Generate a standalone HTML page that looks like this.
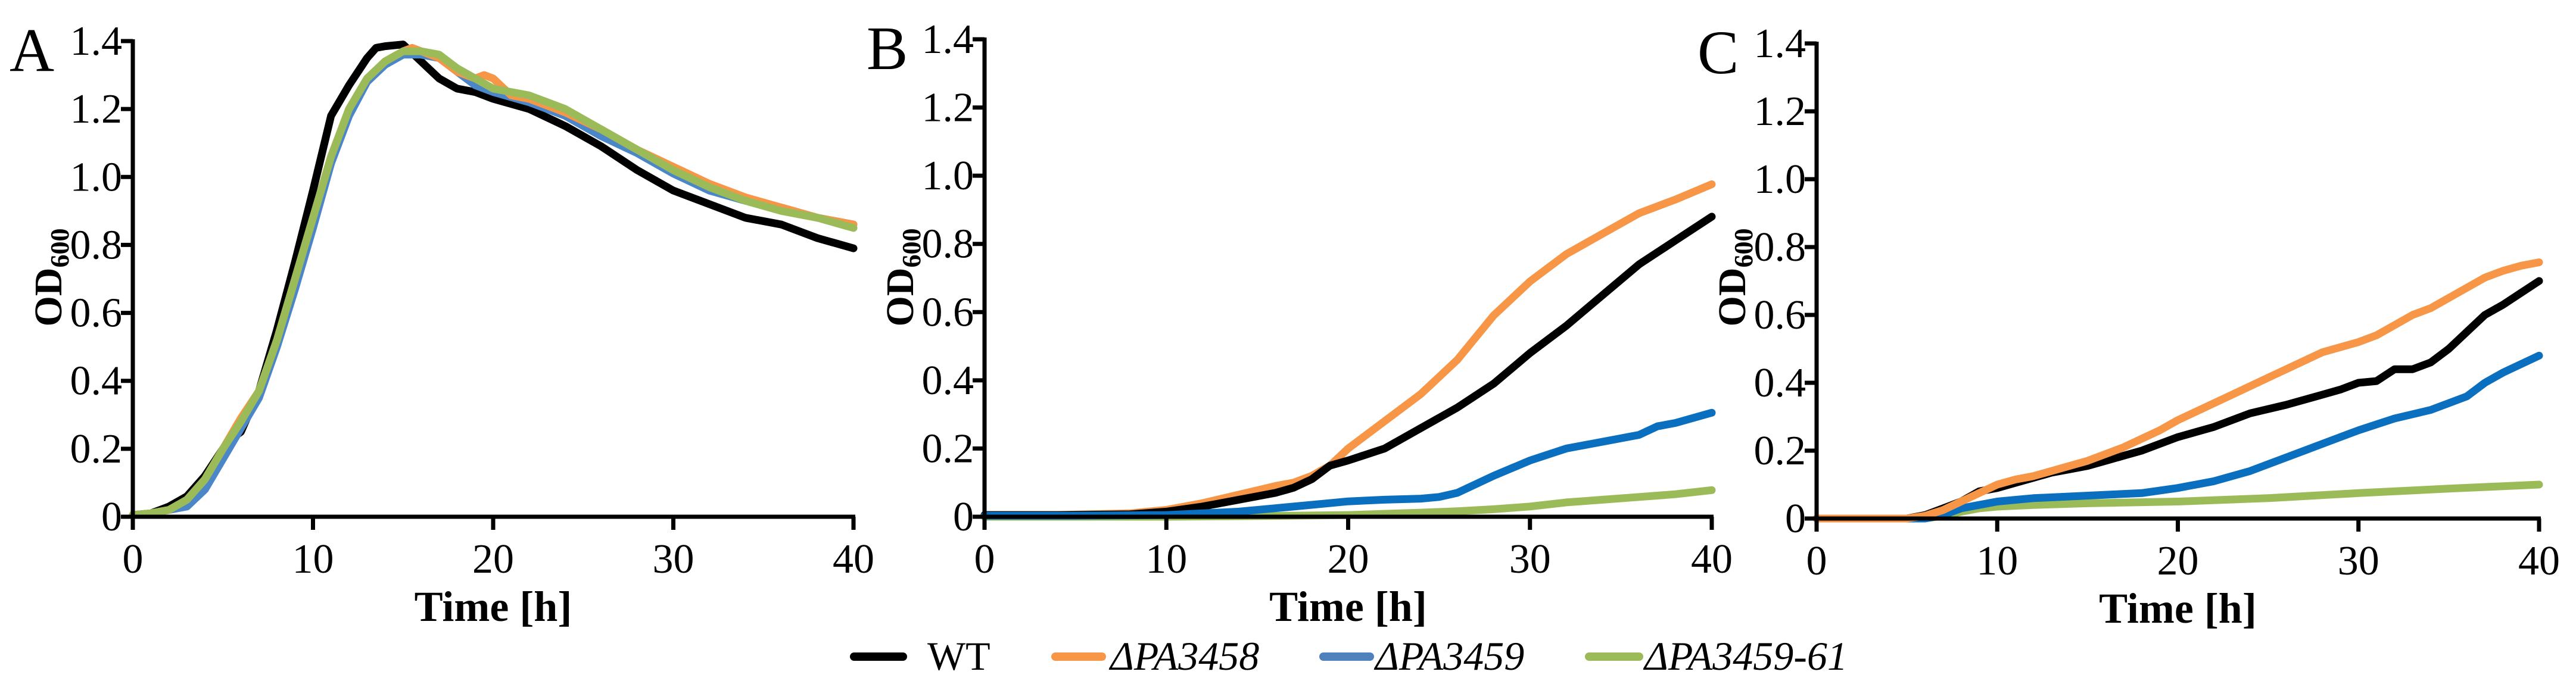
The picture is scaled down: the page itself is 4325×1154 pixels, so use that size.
<!DOCTYPE html>
<html><head><meta charset="utf-8">
<style>
html,body{margin:0;padding:0;background:#fff;}
svg{display:block;font-family:"Liberation Serif","Times New Roman",serif;}
svg text{font-family:"Liberation Serif","Times New Roman",serif;}
</style></head>
<body>
<svg id="fig" width="4325" height="1154" viewBox="0 0 4325 1154" xmlns="http://www.w3.org/2000/svg" font-family="Liberation Serif, serif">
<rect width="4325" height="1154" fill="#fff"/>
<g id="legend" font-family="Liberation Serif, serif">
  <g>
    <line x1="1434" y1="1103" x2="1516" y2="1103" stroke="#000" stroke-width="14" stroke-linecap="round"/>
    <text x="1557" y="1125" font-size="68" font-family="Liberation Serif, serif">WT</text>
  </g>
  <g>
    <line x1="1772" y1="1103" x2="1850" y2="1103" stroke="#F79646" stroke-width="14" stroke-linecap="round"/>
    <text x="1864" y="1125" font-size="68" font-style="italic" font-family="Liberation Serif, serif">ΔPA3458</text>
  </g>
  <g>
    <line x1="2222" y1="1103" x2="2300" y2="1103" stroke="#4F81BD" stroke-width="14" stroke-linecap="round"/>
    <text x="2309" y="1125" font-size="68" font-style="italic" font-family="Liberation Serif, serif">ΔPA3459</text>
  </g>
  <g>
    <line x1="2668" y1="1103" x2="2752" y2="1103" stroke="#9BBB59" stroke-width="14" stroke-linecap="round"/>
    <text x="2761" y="1125" font-size="68" font-style="italic" font-family="Liberation Serif, serif">ΔPA3459-61</text>
  </g>
</g>
</svg>
<script>
const xTicks = [0, 10, 20, 30, 40];
const yTicks = [0, 0.2, 0.4, 0.6, 0.8, 1.0, 1.2, 1.4];
const yTickLabels = ["0", "0.2", "0.4", "0.6", "0.8", "1.0", "1.2", "1.4"];

// Panel A
const aWtT = [0,1,2,3,4,5,5.5,6,7,8,9,10,11,12,13,13.5,14,15,16,17,18,19,20,22,24,26,28,30,32,34,36,38,40];
const aWtV = [0.005,0.01,0.03,0.06,0.12,0.2,0.23,0.25,0.37,0.55,0.75,0.96,1.18,1.27,1.35,1.38,1.385,1.39,1.34,1.29,1.26,1.25,1.23,1.2,1.15,1.09,1.02,0.96,0.92,0.88,0.86,0.82,0.79];
const aGrT = [0,1,2,3,4,5,6,7,8,9,10,11,12,13,14,15,16,17,18,19,20,21,22,24,26,28,30,32,34,36,38,40];
const aGrV = [0.005,0.01,0.02,0.05,0.11,0.2,0.28,0.37,0.52,0.7,0.88,1.06,1.2,1.29,1.34,1.37,1.37,1.36,1.32,1.29,1.26,1.25,1.24,1.2,1.14,1.08,1.02,0.97,0.93,0.9,0.88,0.85];
const aOrT = [0,1,2,3,4,5,6,7,8,9,10,11,12,13,14,15,15.5,16,17,18,19,19.5,20,21,22,24,26,28,30,32,34,36,38,40];
const aOrV = [0.005,0.01,0.02,0.05,0.11,0.2,0.29,0.37,0.52,0.7,0.88,1.06,1.2,1.29,1.34,1.37,1.38,1.37,1.35,1.31,1.29,1.3,1.29,1.24,1.23,1.19,1.14,1.08,1.03,0.98,0.94,0.91,0.88,0.86];
const aBlT = [0,1,2,3,4,5,6,7,8,9,10,11,12,13,14,15,16,17,18,19,20,22,24,26,28,30,32,34,36,38,40];
const aBlV = [0.005,0.01,0.02,0.03,0.08,0.17,0.26,0.35,0.5,0.67,0.85,1.04,1.18,1.28,1.33,1.36,1.36,1.35,1.31,1.27,1.25,1.22,1.18,1.12,1.07,1.01,0.96,0.93,0.91,0.88,0.86];

// Panel B
const bWtT = [0,4,8,10,12,14,16,17,18,19,20,22,24,26,28,30,32,34,36,38,40];
const bWtV = [0.005,0.005,0.007,0.015,0.03,0.05,0.07,0.085,0.11,0.15,0.165,0.2,0.26,0.32,0.39,0.48,0.56,0.65,0.74,0.81,0.88];
const bOrT = [0,4,8,10,12,14,16,17,18,19,20,22,24,26,28,30,32,34,36,38,40];
const bOrV = [0.005,0.005,0.01,0.02,0.04,0.065,0.09,0.1,0.12,0.15,0.2,0.28,0.36,0.46,0.59,0.69,0.77,0.83,0.89,0.93,0.975];
const bBlT = [0,5,10,12,14,16,18,20,22,24,25,26,28,30,32,34,36,37,38,40];
const bBlV = [0.003,0.003,0.005,0.01,0.015,0.025,0.035,0.045,0.05,0.053,0.058,0.07,0.12,0.165,0.2,0.22,0.24,0.265,0.275,0.305];
const bGrT = [0,10,15,20,24,26,28,30,32,34,36,38,40];
const bGrV = [0.0,0.0,0.002,0.005,0.012,0.016,0.022,0.03,0.042,0.05,0.058,0.066,0.078];

// Panel C
const cWtT = [0,5,6,7,8,9,10,11,12,13,14,15,16,17,18,19,20,22,24,26,28,29,30,31,32,33,34,35,36,37,38,39,40];
const cWtV = [0,0,0.01,0.03,0.05,0.08,0.09,0.105,0.12,0.135,0.145,0.155,0.17,0.185,0.2,0.22,0.24,0.27,0.31,0.335,0.365,0.38,0.4,0.405,0.44,0.44,0.46,0.5,0.55,0.6,0.63,0.665,0.7];
const cOrT = [0,5,6,7,8,9,10,11,12,13,14,15,16,17,18,19,20,22,24,26,28,30,31,32,33,34,35,36,37,38,39,40];
const cOrV = [0,0,0.008,0.025,0.05,0.075,0.1,0.115,0.125,0.14,0.155,0.17,0.19,0.21,0.235,0.26,0.29,0.34,0.39,0.44,0.49,0.52,0.54,0.57,0.6,0.62,0.65,0.68,0.71,0.73,0.745,0.755];
const cBlT = [0,6,7,8,9,10,11,12,14,16,18,20,22,24,26,28,30,32,34,35,36,37,38,39,40];
const cBlV = [0,0,0.01,0.03,0.04,0.05,0.055,0.06,0.065,0.07,0.075,0.09,0.11,0.14,0.18,0.22,0.26,0.295,0.32,0.34,0.36,0.4,0.43,0.455,0.48];
const cGrT = [0,6,7,8,9,10,12,15,20,25,30,35,40];
const cGrV = [0,0,0.008,0.02,0.03,0.035,0.04,0.045,0.05,0.06,0.075,0.088,0.1];

const COL = {wt:"#000000", or:"#F79646", bl:"#4A86C8", bl2:"#0A6FBF", gr:"#9BBB59"};
const FONT = "Liberation Serif, serif";

const panels = [
  {id:"a", letter:"A", letterX:16, x0:223, x1:1433, y0:868, y1:69,
   series:[["wt",aWtT,aWtV,COL.wt],["blue",aBlT,aBlV,COL.bl],["orange",aOrT,aOrV,COL.or],["green",aGrT,aGrV,COL.gr]]},
  {id:"b", letter:"B", letterX:1455, x0:1653, x1:2874, y0:868, y1:66,
   series:[["green",bGrT,bGrV,COL.gr],["orange",bOrT,bOrV,COL.or],["wt",bWtT,bWtV,COL.wt],["blue",bBlT,bBlV,COL.bl2]]},
  {id:"c", letter:"C", letterX:2850, x0:3050, x1:4263, y0:871, y1:73,
   series:[["green",cGrT,cGrV,COL.gr],["blue",cBlT,cBlV,COL.bl2],["wt",cWtT,cWtV,COL.wt],["orange",cOrT,cOrV,COL.or]]}
];

const NS = "http://www.w3.org/2000/svg";
const svg = document.getElementById("fig");
function mk(tag, attrs, parent){
  const e = document.createElementNS(NS, tag);
  for (const k in attrs) e.setAttribute(k, attrs[k]);
  if (tag === "text") e.setAttribute("font-family", FONT);
  parent.appendChild(e);
  return e;
}

panels.forEach(p => {
  const xs = v => p.x0 + (v/40)*(p.x1-p.x0);
  const ys = v => p.y0 - (v/1.4)*(p.y0-p.y1);
  const g = mk("g", {}, svg);
  
  

  const lt = mk("text", {x:p.letterX, y:p.y1+50, "font-size":"104"}, g);
  
  
  lt.textContent = p.letter;

  const sg = mk("g", {}, g);
  
  
  p.series.forEach(s => {
    const [name, T, V, col] = s;
    const pts = T.map((t,i) => xs(t).toFixed(1) + "," + ys(V[i]).toFixed(1)).join(" ");
    const pl = mk("polyline", {points:pts, fill:"none", stroke:col, "stroke-width":"13", "stroke-linejoin":"round", "stroke-linecap":"round"}, sg);
    
    
  });

  const ax = mk("g", {stroke:"#000", "stroke-width":"7", fill:"none"}, g);
  
  
  mk("line", {x1:p.x0, y1:p.y1-3, x2:p.x0, y2:p.y0+22}, ax);
  mk("line", {x1:p.x0-20, y1:p.y0, x2:p.x1+3, y2:p.y0}, ax);
  yTicks.forEach(v => { mk("line", {x1:p.x0-20, y1:ys(v), x2:p.x0, y2:ys(v)}, ax); });
  xTicks.forEach(v => { mk("line", {x1:xs(v), y1:p.y0, x2:xs(v), y2:p.y0+22}, ax); });

  yTicks.forEach((v,i) => {
    const t = mk("text", {x:p.x0-18, y:ys(v)+23, "font-size":"70", "text-anchor":"end"}, g);
    
    
    t.textContent = yTickLabels[i];
  });
  xTicks.forEach(v => {
    const t = mk("text", {x:xs(v), y:p.y0+94, "font-size":"70", "text-anchor":"middle"}, g);
    
    
    t.textContent = String(v);
  });

  const xt = mk("text", {x:(p.x0+p.x1)/2, y:p.y0+175, "font-size":"72", "font-weight":"bold", "text-anchor":"middle"}, g);
  
  
  xt.textContent = "Time [h]";

  const cy = 466, cx = p.x0 - 120;
  const yt = mk("text", {x:0, y:0, "font-size":"66", "font-weight":"bold", "text-anchor":"middle", transform:"translate(" + cx + "," + cy + ") rotate(-90)"}, g);
  
  
  const t1 = mk("tspan", {}, yt); t1.textContent = "OD";
  const t2 = mk("tspan", {"font-size":"44", dy:"12"}, yt); t2.textContent = "600";
});
</script>
</body></html>
